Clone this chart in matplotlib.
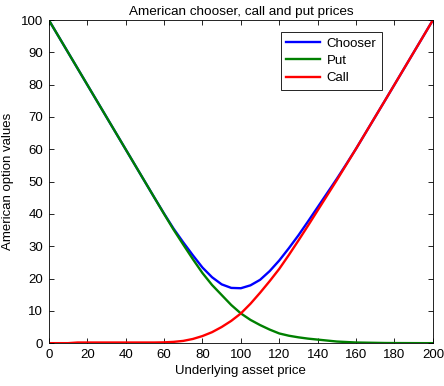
import numpy as np
from matplotlib import pyplot as plt

plt.rcParams['font.family'] = ['Liberation Sans', 'DejaVu Sans']

# underlying asset price grid
S = np.arange(0, 205, 5)

put = [100, 95, 90, 85, 80, 75, 70, 65, 60, 55, 50, 45, 40.0,
       35.1, 30.5, 26.0, 21.7, 18.0, 14.9, 11.8, 9.2, 7.2, 5.6, 4.2, 3.0,
       2.3, 1.8, 1.4, 1.1, 0.8, 0.5, 0.35, 0.2, 0.15, 0.1, 0.05, 0.03,
       0.02, 0.01, 0, 0]

call = [0, 0, 0, 0.2, 0.2, 0.2, 0.2, 0.2, 0.2, 0.2, 0.2, 0.2, 0.25,
        0.4, 0.7, 1.3, 2.2, 3.4, 5.0, 6.9, 9.2, 12.2, 15.6, 19.2, 23.0,
        27.3, 31.8, 36.4, 41.1, 45.8, 50.5, 55.35, 60.2, 65.15, 70.1,
        75.05, 80.03, 85.02, 90.01, 95, 100]

chooser = [100, 95, 90, 85, 80, 75, 70, 65, 60, 55, 50, 45, 40.1,
           35.4, 31.2, 27.2, 23.4, 20.4, 18.2, 17.1, 17.0, 17.9, 19.6,
           22.3, 25.6, 29.4, 33.4, 37.7, 42.1, 46.5, 50.9, 55.5, 60.2,
           65.15, 70.1, 75.05, 80.03, 85.02, 90.01, 95, 100]

fig = plt.figure(figsize=(4.44, 3.86), dpi=100)
ax = fig.add_axes([0.110, 0.111, 0.865, 0.837])

ax.plot(S, chooser, color=(0, 0, 1), lw=1.7, label='Chooser')
ax.plot(S, put, color=(0, 0.5, 0), lw=1.7, label='Put')
ax.plot(S, call, color=(1, 0, 0), lw=1.7, label='Call')

ax.set_xlim(0, 200)
ax.set_ylim(0, 100)
ax.set_xticks(np.arange(0, 201, 20))
ax.set_yticks(np.arange(0, 101, 10))
ax.tick_params(direction='in', top=True, right=True, length=3.5,
               labelsize=9.5, width=0.6, pad=4)
for sp in ax.spines.values():
    sp.set_linewidth(0.6)

ax.set_xlabel('Underlying asset price', fontsize=9.5, labelpad=3)
ax.set_ylabel('American option values', fontsize=9.5, labelpad=5)
ax.set_title('American chooser, call and put prices', fontsize=9.7, pad=4)

leg = ax.legend(loc='upper right', bbox_to_anchor=(0.867, 0.962),
                fontsize=9.5, handlelength=2.6, fancybox=False,
                edgecolor='black', framealpha=1, borderpad=0.4,
                labelspacing=0.38, handletextpad=0.5, borderaxespad=0)
leg.get_frame().set_linewidth(0.6)

plt.savefig('out.png', dpi=100)
